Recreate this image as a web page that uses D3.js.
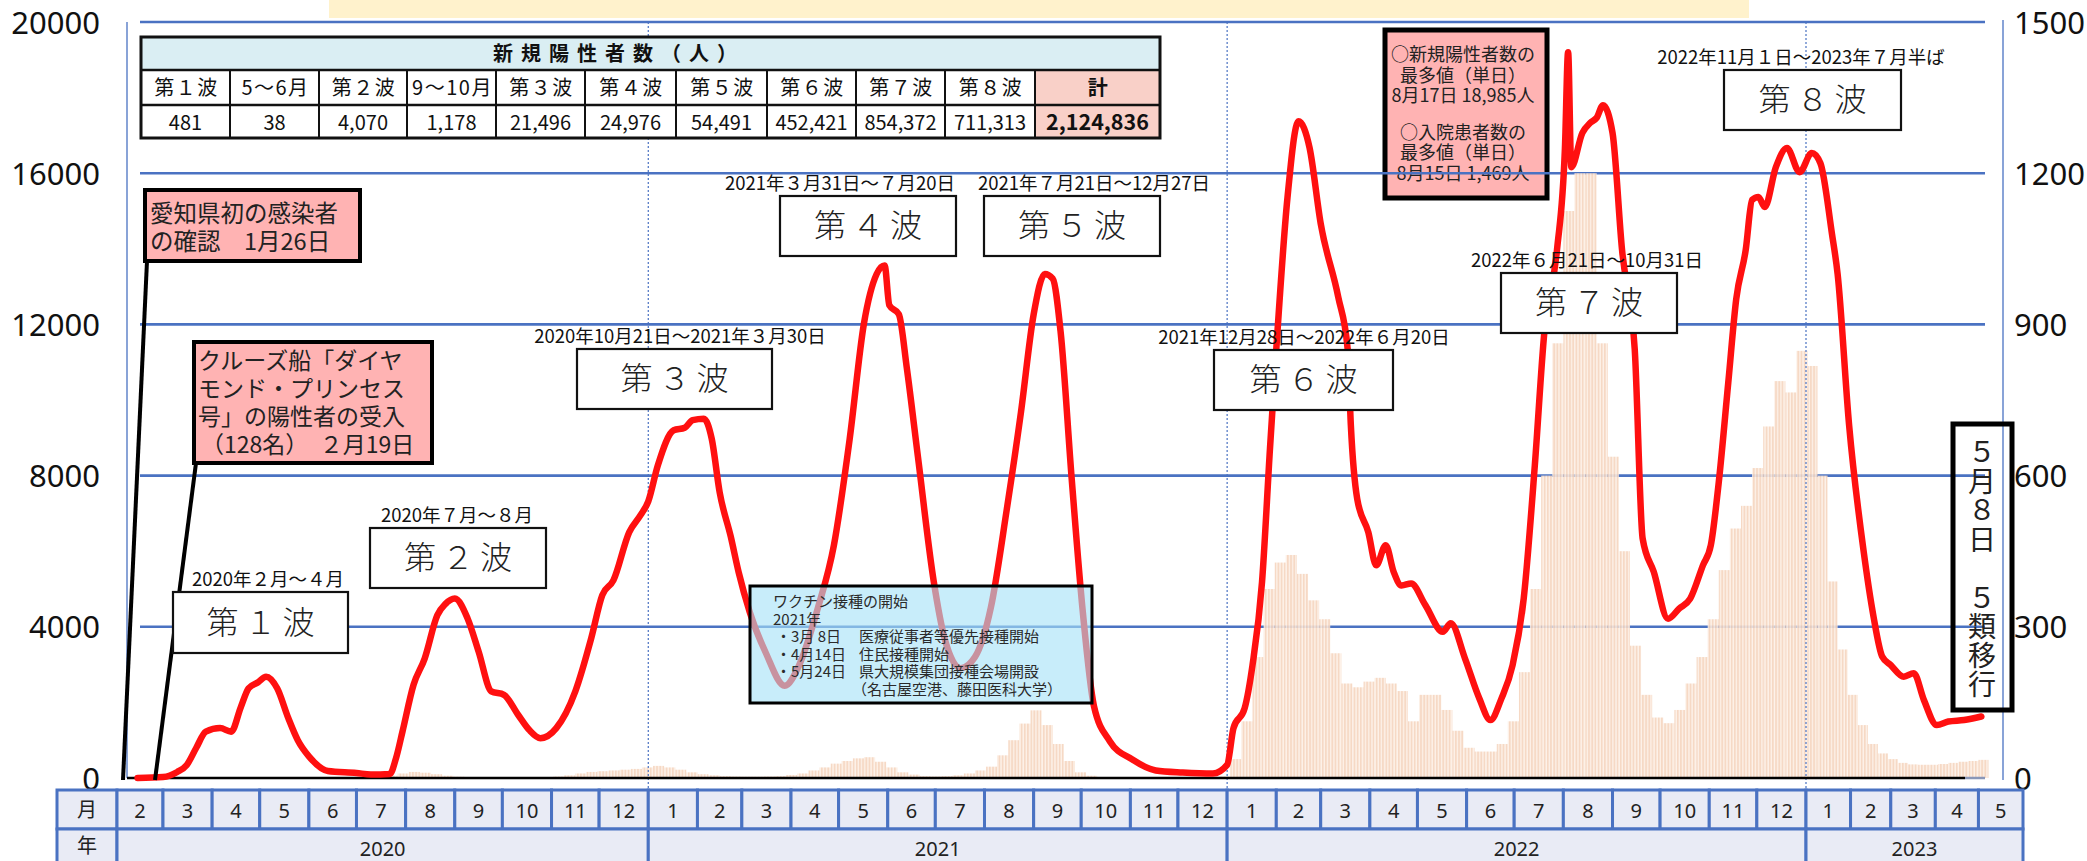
<!DOCTYPE html>
<html lang="ja">
<head>
<meta charset="utf-8">
<script src="https://cdn.jsdelivr.net/npm/d3@7/dist/d3.min.js"></script>
<style>
  html, body { margin: 0; padding: 0; background: #fff; }
  svg { display: block; }
</style>
</head>
<body>
<svg id="chart" width="2087" height="861"></svg>
<script>
// ---------------- data ----------------
// Hospitalised patients (right axis)
const lineDates = [
  "2020-02-14","2020-03-01","2020-03-10","2020-03-16","2020-03-22","2020-03-28","2020-04-06","2020-04-13",
  "2020-04-19","2020-04-24","2020-04-30","2020-05-05","2020-05-12","2020-05-19","2020-05-25","2020-06-01",
  "2020-06-13","2020-07-01","2020-07-10","2020-07-22","2020-07-26","2020-07-30","2020-08-06","2020-08-13",
  "2020-08-21","2020-08-26","2020-09-01","2020-09-09","2020-09-16","2020-09-24","2020-10-02","2020-10-11",
  "2020-10-18","2020-10-25","2020-11-04","2020-11-16","2020-11-26","2020-12-03","2020-12-10","2020-12-20",
  "2020-12-27",
  "2021-01-01","2021-01-07","2021-01-17","2021-01-24","2021-01-29","2021-02-05","2021-02-10","2021-02-15",
  "2021-02-22","2021-02-27","2021-03-06","2021-03-16","2021-03-28","2021-04-06","2021-04-18","2021-04-28",
  "2021-05-08","2021-05-17","2021-05-25","2021-05-30","2021-06-02","2021-06-08","2021-06-13","2021-06-20",
  "2021-06-30","2021-07-07","2021-07-17","2021-07-26","2021-08-05","2021-08-15","2021-08-24","2021-09-01",
  "2021-09-08","2021-09-13","2021-09-18","2021-09-25","2021-10-02","2021-10-09","2021-10-19","2021-11-02",
  "2021-11-17","2021-12-04","2021-12-23",
  "2022-01-01","2022-01-05","2022-01-12","2022-01-17","2022-01-23","2022-01-28","2022-02-01","2022-02-08",
  "2022-02-15","2022-02-22","2022-03-01","2022-03-12","2022-03-18","2022-03-20","2022-03-24","2022-03-31",
  "2022-04-05","2022-04-11","2022-04-16","2022-04-21","2022-04-27","2022-05-06","2022-05-17","2022-05-22",
  "2022-05-31","2022-06-09","2022-06-16","2022-06-23","2022-06-30","2022-07-07","2022-07-14","2022-07-20",
  "2022-07-28","2022-08-02","2022-08-04","2022-08-06","2022-08-13","2022-08-18","2022-08-22","2022-08-26",
  "2022-09-01","2022-09-07","2022-09-15","2022-09-20","2022-09-27","2022-10-06","2022-10-13","2022-10-20",
  "2022-10-28","2022-11-02","2022-11-07","2022-11-13","2022-11-18","2022-11-24","2022-11-28","2022-12-02",
  "2022-12-06","2022-12-13","2022-12-20","2022-12-28",
  "2023-01-05","2023-01-11","2023-01-19","2023-01-23","2023-01-31","2023-02-10","2023-02-17","2023-02-23",
  "2023-03-01","2023-03-10","2023-03-17","2023-03-24","2023-04-02","2023-04-10","2023-04-21","2023-05-03"
];
const lineValues = [
  0, 2, 12, 26, 60, 92, 99, 92,
  140, 178, 190, 201, 178, 119, 75, 43,
  14, 10, 7, 8, 40, 92, 185, 237,
  323, 345, 356, 317, 251, 172, 165, 125,
  95, 79, 99, 172, 277, 363, 392, 488,
  521,
  549, 620, 690, 695, 710, 713, 673, 567,
  479, 408, 329, 249, 183, 223, 338, 461,
  673, 902, 1000, 1017, 938, 920, 814, 638,
  390, 275, 218, 240, 338, 532, 726, 920,
  1000, 991, 885, 593, 329, 143, 73, 37,
  15, 11, 9,
  26, 99, 138, 224, 389, 653, 851, 1150,
  1303, 1250, 1100, 955, 851, 700, 554, 488,
  422, 462, 409, 382, 386, 343, 290, 307,
  237, 158, 115, 158, 224, 356, 620, 884,
  1048, 1250, 1440, 1212, 1280, 1300, 1310, 1335,
  1280, 1048, 851, 475, 409, 316, 336, 356,
  422, 462, 587, 785, 950, 1048, 1147, 1153,
  1133, 1212, 1250, 1202,
  1240, 1220, 1081, 1000, 700, 452, 320, 241,
  224, 201, 208, 155, 105, 112, 115, 122
];

// Daily new positives (left axis), one value per week starting Monday
const barStartDate = "2020-02-03";
const barWeeklyValues = [
  // 2020
  0, 1, 2, 3,  4, 6, 6, 8, 12,  18, 16, 10, 6,  3, 1, 0, 0,  0, 0, 1, 1, 2,
  4, 15, 60, 120,  160, 140, 100, 60, 35,  25, 20, 18, 15,  15, 18, 20, 25,
  40, 70, 120, 160, 180,  200, 220, 240, 280,
  // 2021
  320, 280, 220, 150,  100, 70, 50, 40,  35, 35, 40, 50, 80,  120, 200, 280, 380,
  450, 520, 550, 430, 280,  150, 90, 50, 40,  50, 70, 120, 200,
  300, 600, 1000, 1440, 1790,  1400, 900, 450, 150,  60, 25, 12, 8,
  5, 4, 3, 3, 3,  3, 4, 8, 40,
  // 2022
  500, 1500, 3200, 5000, 5700,  5900, 5400, 4700, 4200,  3300, 2500, 2400, 2550,
  2650, 2500, 2300, 1500,  2200, 2200, 1800, 1250, 800,  700, 700, 900, 1500,
  2800, 5000, 8000, 11500,  15000, 16000, 16000, 11500, 8500,  6000, 3500, 2200, 1600,
  1450, 1800, 2500, 3200, 4200,  5500, 6600, 7200, 8200,  9300, 10500, 10200, 11300,
  // 2023
  10900, 8000, 5200, 3400, 2200,  1400, 900, 650, 500,  400, 360, 350, 350,
  370, 400, 430, 450,  480
];

const leftTicks = [0, 4000, 8000, 12000, 16000, 20000];
const rightTicks = [0, 300, 600, 900, 1200, 1500];
const yearLabels = [2020, 2021, 2022, 2023];

const tableTitle = "新規陽性者数（人）";
const tableHeads = ["第１波", "5～6月", "第２波", "9～10月", "第３波", "第４波", "第５波", "第６波", "第７波", "第８波", "計"];
const tableCounts = [481, 38, 4070, 1178, 21496, 24976, 54491, 452421, 854372, 711313, 2124836];

const waveNames = ["第１波", "第２波", "第３波", "第４波", "第５波", "第６波", "第７波", "第８波"];
const wavePeriods = [
  "2020年２月～４月", "2020年７月～８月", "2020年10月21日～2021年３月30日",
  "2021年３月31日～７月20日", "2021年７月21日～12月27日", "2021年12月28日～2022年６月20日",
  "2022年６月21日～10月31日", "2022年11月１日～2023年７月半ば"
];

const firstCaseNote = ["愛知県初の感染者", "の確認　1月26日"];
const cruiseNote = ["クルーズ船「ダイヤ", "モンド・プリンセス", "号」の陽性者の受入", "（128名）　２月19日"];
const recordNote = ["○新規陽性者数の", "最多値（単日）", "8月17日 18,985人", "○入院患者数の", "最多値（単日）", "8月15日 1,469人"];
const vaccineTitle = ["ワクチン接種の開始", "2021年"];
const vaccineDates = ["・3月 8日", "・4月14日", "・5月24日", ""];
const vaccineEvents = ["医療従事者等優先接種開始", "住民接種開始", "県大規模集団接種会場開設", "（名古屋空港、藤田医科大学）"];
const transitionNote = "５月８日　５類移行";

// ---------------- layout ----------------
const JP = "'Noto Sans CJK JP', 'Noto Sans', sans-serif";
const NUM = "'Noto Sans', 'Liberation Sans', sans-serif";
const BLUE = "#4a72c2";

const parse = d3.timeParse("%Y-%m-%d");
const svg = d3.select("#chart");

const x = d3.scaleTime()
  .domain([parse("2020-02-01"), parse("2023-01-01"), parse("2023-06-01")])
  .range([117, 1806, 2023]);
const yL = d3.scaleLinear().domain([0, 20000]).range([778, 22]);
const yR = d3.scaleLinear().domain([0, 1500]).range([778, 22]);

const plotLeft = 127, gridLeft = 140, gridRight = 1985, rightAxisX = 2003;

// multi-line text block as one <text> with tspans
function textBlock(g, lines, x0, y0, step, opts) {
  const t = g.append("text").attr("font-family", opts.family || JP).attr("font-size", opts.size)
    .attr("fill", opts.fill || "#222").attr("text-anchor", opts.anchor || "start");
  lines.forEach((s, i) => {
    t.append("tspan").attr("x", Array.isArray(x0) ? x0[i] : x0)
      .attr("y", Array.isArray(y0) ? y0[i] : y0 + i * step).text(s);
  });
  return t;
}

const defs = svg.append("defs");
const pat = defs.append("pattern").attr("id", "dailyBars")
  .attr("patternUnits", "userSpaceOnUse").attr("width", 3.17).attr("height", 20);
pat.append("rect").attr("width", 3.17).attr("height", 20).attr("fill", "#fdf0e6");
pat.append("rect").attr("width", 1.8).attr("height", 20).attr("fill", "#f5d5bf");

// title strip
svg.append("rect").attr("x", 329).attr("y", 0).attr("width", 1420).attr("height", 18).attr("fill", "#fff2cc");

// record box (sits beneath the grid)
const rec = { x: 1385, y: 30, w: 162, h: 168 };
svg.append("rect").attr("x", rec.x).attr("y", rec.y).attr("width", rec.w).attr("height", rec.h)
  .attr("fill", "#ffb3b3").attr("stroke", "#000").attr("stroke-width", 5);
textBlock(svg, recordNote, rec.x + rec.w / 2 - 3, [61, 82, 102, 139, 159, 180], 0,
  { size: 18, anchor: "middle", fill: "#222" });

// horizontal grid
svg.append("g").selectAll("line").data(leftTicks.filter(t => t > 0)).join("line")
  .attr("x1", gridLeft).attr("x2", gridRight)
  .attr("y1", d => yL(d)).attr("y2", d => yL(d))
  .attr("stroke", BLUE).attr("stroke-width", 2.6);

// axis lines
svg.append("line").attr("x1", plotLeft).attr("x2", plotLeft).attr("y1", 22).attr("y2", 778)
  .attr("stroke", BLUE).attr("stroke-width", 1.3);
svg.append("line").attr("x1", rightAxisX).attr("x2", rightAxisX).attr("y1", 20).attr("y2", 780)
  .attr("stroke", BLUE).attr("stroke-width", 1.3);

// axis labels
const axL = svg.append("g").attr("transform", "translate(100,0)")
  .call(d3.axisLeft(yL).tickValues(leftTicks).tickSize(0).tickPadding(0).tickFormat(d3.format("d")));
axL.select(".domain").remove();
axL.selectAll("text").attr("font-family", NUM).attr("font-size", 31).attr("fill", "#111").attr("dy", "0.36em");

const axR = svg.append("g").attr("transform", "translate(2014,0)")
  .call(d3.axisRight(yR).tickValues(rightTicks).tickSize(0).tickPadding(0).tickFormat(d3.format("d")));
axR.select(".domain").remove();
axR.selectAll("text").attr("font-family", NUM).attr("font-size", 31).attr("fill", "#111").attr("dy", "0.36em");

// weekly bars of daily positives
const barStart = parse(barStartDate);
const bars = barWeeklyValues.map((v, i) => ({ d: d3.timeDay.offset(barStart, 7 * i), v }));
svg.append("g").selectAll("rect").data(bars).join("rect")
  .attr("x", d => x(d.d))
  .attr("width", d => x(d3.timeDay.offset(d.d, 7)) - x(d.d))
  .attr("y", d => yL(d.v))
  .attr("height", d => yL(0) - yL(d.v))
  .attr("fill", "url(#dailyBars)").attr("opacity", 0.9);

// year separators
svg.append("g").selectAll("line").data(["2021-01-01", "2022-01-01", "2023-01-01"]).join("line")
  .attr("x1", d => x(parse(d))).attr("x2", d => x(parse(d)))
  .attr("y1", 22).attr("y2", 790)
  .attr("stroke", BLUE).attr("stroke-width", 1.2).attr("stroke-dasharray", "2,2");

// baseline
svg.append("line").attr("x1", plotLeft).attr("x2", 1965).attr("y1", yL(0)).attr("y2", yL(0))
  .attr("stroke", "#000").attr("stroke-width", 2.5);
svg.append("line").attr("x1", 1965).attr("x2", gridRight).attr("y1", yL(0)).attr("y2", yL(0))
  .attr("stroke", "#8a97b8").attr("stroke-width", 2.5);

// hospitalised line
const linePts = lineDates.map((d, i) => ({ d: parse(d), v: lineValues[i] }));
svg.append("path").datum(linePts)
  .attr("d", d3.line().x(d => x(d.d)).y(d => yR(d.v)).curve(d3.curveMonotoneX))
  .attr("fill", "none").attr("stroke", "#ff1010").attr("stroke-width", 6.5)
  .attr("stroke-linejoin", "round").attr("stroke-linecap", "round");

// first case note
svg.append("line").attr("x1", 147).attr("y1", 261).attr("x2", 123).attr("y2", 780)
  .attr("stroke", "#000").attr("stroke-width", 4);
svg.append("rect").attr("x", 145).attr("y", 190).attr("width", 215).attr("height", 71)
  .attr("fill", "#ffb3b3").attr("stroke", "#000").attr("stroke-width", 4);
textBlock(svg, firstCaseNote, 150, 222, 28, { size: 23.5 });

// cruise ship note
svg.append("line").attr("x1", 196).attr("y1", 463).attr("x2", 155).attr("y2", 780)
  .attr("stroke", "#000").attr("stroke-width", 4);
svg.append("rect").attr("x", 194).attr("y", 342).attr("width", 238).attr("height", 121)
  .attr("fill", "#ffb3b3").attr("stroke", "#000").attr("stroke-width", 4);
textBlock(svg, cruiseNote, [198, 198, 198, 201], 369, 28, { size: 23 });

// wave labels
const waveBoxes = [
  { x: 173, y: 592, w: 175, h: 61, cx: 268 },
  { x: 370, y: 528, w: 176, h: 60, cx: 457 },
  { x: 577, y: 349, w: 195, h: 60, cx: 680 },
  { x: 780, y: 196, w: 176, h: 60, cx: 840 },
  { x: 984, y: 196, w: 176, h: 60, cx: 1094 },
  { x: 1214, y: 350, w: 179, h: 60, cx: 1304 },
  { x: 1501, y: 273, w: 176, h: 60, cx: 1587 },
  { x: 1724, y: 70, w: 177, h: 60, cx: 1801 }
];
const wg = svg.append("g");
waveNames.forEach((name, i) => {
  const b = waveBoxes[i];
  wg.append("text").attr("x", b.cx).attr("y", b.y - 6).attr("text-anchor", "middle")
    .attr("font-family", JP).attr("font-size", 18.5).attr("fill", "#111").text(wavePeriods[i]);
  wg.append("rect").attr("x", b.x).attr("y", b.y).attr("width", b.w).attr("height", b.h)
    .attr("fill", "#fff").attr("stroke", "#111").attr("stroke-width", 2.2);
  wg.append("text").attr("x", b.x + b.w / 2 + 3).attr("y", b.y + b.h / 2 + 11).attr("text-anchor", "middle")
    .attr("font-family", JP).attr("font-size", 32).attr("font-weight", 300).attr("letter-spacing", 6)
    .attr("fill", "#222").text(name);
});

// vaccination note (translucent)
const vb = { x: 750, y: 586, w: 342, h: 117 };
svg.append("rect").attr("x", vb.x).attr("y", vb.y).attr("width", vb.w).attr("height", vb.h)
  .attr("fill", "#a6e2f7").attr("fill-opacity", 0.62).attr("stroke", "#000").attr("stroke-width", 3);
const vLines = vaccineTitle.concat(vaccineDates);
const vX = [773, 773, 776, 776, 776, 776];
const vY = [607, 624.5, 642, 659.5, 677, 694.5];
const vt = textBlock(svg, vLines, vX, vY, 0, { size: 15, fill: "#2a2a2a" });
// event descriptions sit in the second column of the same block
vaccineEvents.forEach((e, i) => {
  vt.append("tspan").attr("x", i === 3 ? 852 : 859).attr("y", vY[i + 2]).text(e);
});

// 5月8日 5類移行 (vertical)
svg.append("rect").attr("x", 1953).attr("y", 424).attr("width", 59).attr("height", 286)
  .attr("fill", "none").attr("stroke", "#000").attr("stroke-width", 5);
svg.append("text").attr("x", 1982).attr("y", 438)
  .style("writing-mode", "vertical-rl").style("text-orientation", "upright")
  .attr("font-family", JP).attr("font-size", 28).attr("letter-spacing", 1.1).attr("fill", "#222")
  .text(transitionNote);

// counts table
const colEdges = [141, 230, 319, 407, 496, 585, 676, 767, 856, 945, 1035, 1160];
const tY = [37, 70, 105, 138];
const tg = svg.append("g");
tg.append("rect").attr("x", colEdges[0]).attr("y", tY[0]).attr("width", colEdges[11] - colEdges[0]).attr("height", tY[1] - tY[0])
  .attr("fill", "#daeef3");
tableHeads.forEach((h, i) => {
  const x0 = colEdges[i], x1 = colEdges[i + 1];
  const fill = i === 10 ? "#f9d0c8" : "#fff";
  tg.append("rect").attr("x", x0).attr("y", tY[1]).attr("width", x1 - x0).attr("height", tY[2] - tY[1]).attr("fill", fill);
  tg.append("rect").attr("x", x0).attr("y", tY[2]).attr("width", x1 - x0).attr("height", tY[3] - tY[2]).attr("fill", fill);
  tg.append("text").attr("x", (x0 + x1) / 2 + 1).attr("y", tY[1] + 25).attr("text-anchor", "middle")
    .attr("font-family", JP).attr("font-size", 20).attr("letter-spacing", 1.5)
    .attr("font-weight", i === 10 ? 700 : 400).attr("fill", "#111").text(h);
  tg.append("text").attr("x", (x0 + x1) / 2).attr("y", tY[2] + 25).attr("text-anchor", "middle")
    .attr("font-family", JP).attr("font-size", i === 10 ? 21.5 : 20).attr("font-weight", i === 10 ? 700 : 400)
    .attr("fill", "#111").text(d3.format(",")(tableCounts[i]));
});
tg.append("text").attr("x", 619).attr("y", tY[0] + 24).attr("text-anchor", "middle")
  .attr("font-family", JP).attr("font-size", 20).attr("font-weight", 700).attr("letter-spacing", 8)
  .attr("fill", "#111").text(tableTitle);
// table rules
tg.selectAll("line.v").data(colEdges.slice(1, 11)).join("line")
  .attr("x1", d => d).attr("x2", d => d).attr("y1", tY[1]).attr("y2", tY[3])
  .attr("stroke", "#111").attr("stroke-width", 2);
tg.selectAll("line.h").data([tY[1], tY[2]]).join("line")
  .attr("x1", colEdges[0]).attr("x2", colEdges[11]).attr("y1", d => d).attr("y2", d => d)
  .attr("stroke", "#111").attr("stroke-width", 2.5);
tg.append("rect").attr("x", colEdges[0]).attr("y", tY[0]).attr("width", colEdges[11] - colEdges[0]).attr("height", tY[3] - tY[0])
  .attr("fill", "none").attr("stroke", "#111").attr("stroke-width", 3);

// month / year strip
const months = d3.timeMonth.range(parse("2020-02-01"), parse("2023-06-01"));
const rowTop = 790, rowMid = 829, rowBot = 866;
const bg = svg.append("g");
bg.append("rect").attr("x", 57).attr("y", rowTop).attr("width", 60).attr("height", rowMid - rowTop)
  .attr("fill", "#e9ebf5").attr("stroke", BLUE).attr("stroke-width", 3);
bg.append("rect").attr("x", 57).attr("y", rowMid).attr("width", 60).attr("height", rowBot - rowMid)
  .attr("fill", "#e9ebf5").attr("stroke", BLUE).attr("stroke-width", 3);
bg.append("text").attr("x", 87).attr("y", 817).attr("text-anchor", "middle").attr("font-family", JP).attr("font-size", 20).attr("fill", "#222").text("月");
bg.append("text").attr("x", 87).attr("y", 853).attr("text-anchor", "middle").attr("font-family", JP).attr("font-size", 20).attr("fill", "#222").text("年");
months.forEach(m => {
  const x0 = x(m), x1 = x(d3.timeMonth.offset(m, 1));
  bg.append("rect").attr("x", x0).attr("y", rowTop).attr("width", x1 - x0).attr("height", rowMid - rowTop)
    .attr("fill", "#e9ebf5").attr("stroke", BLUE).attr("stroke-width", 3);
  bg.append("text").attr("x", (x0 + x1) / 2).attr("y", 818).attr("text-anchor", "middle")
    .attr("font-family", NUM).attr("font-size", 20).attr("fill", "#222").text(m.getMonth() + 1);
});
yearLabels.forEach(yr => {
  const a = d3.max([parse(yr + "-01-01"), x.domain()[0]]);
  const b = d3.min([parse((yr + 1) + "-01-01"), x.domain()[2]]);
  const x0 = x(a), x1 = x(b);
  bg.append("rect").attr("x", x0).attr("y", rowMid).attr("width", x1 - x0).attr("height", rowBot - rowMid)
    .attr("fill", "#e9ebf5").attr("stroke", BLUE).attr("stroke-width", 3);
  bg.append("text").attr("x", (x0 + x1) / 2).attr("y", 856).attr("text-anchor", "middle")
    .attr("font-family", NUM).attr("font-size", 20).attr("fill", "#222").text(yr);
});
</script>
</body>
</html>
